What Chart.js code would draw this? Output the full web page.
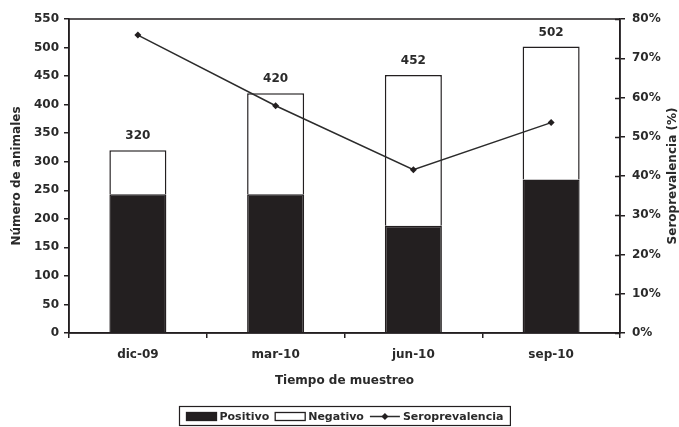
<!DOCTYPE html>
<html>
<head>
<meta charset="utf-8">
<script src="https://cdn.jsdelivr.net/npm/chart.js@4.4.0/dist/chart.umd.min.js"></script>
<style>
  html, body { margin: 0; padding: 0; background: #fff; }
  #wrap { width: 679px; height: 427px; position: relative; }
</style>
</head>
<body>
<div id="wrap"><canvas id="chart"></canvas></div>
<script>
// data
const categories = ['dic-09', 'mar-10', 'jun-10', 'sep-10'];
const positivo = [243, 243, 188, 269];
const negativo = [77, 177, 264, 233];
const seroprevalencia = [75.9, 57.9, 41.6, 53.6];
const leftTicks = [0, 50, 100, 150, 200, 250, 300, 350, 400, 450, 500, 550];
const rightTicks = [0, 10, 20, 30, 40, 50, 60, 70, 80];

const INK = '#231f20';
const TEXT = '#2a2a2a';
const TITLE_FONT = { family: "'DejaVu Sans', sans-serif", size: 12, weight: 'bold' };
const TICK_FONT = { family: "'DejaVu Sans', sans-serif", size: 12, weight: 'bold' };
const RIGHT_TITLE = 'Seroprevalencia (%)';

// frame, crossing ticks on the right axis, totals above bars, boxed legend
const extras = {
  id: 'extras',
  afterDraw(chart) {
    const ctx = chart.ctx;
    const area = chart.chartArea;
    ctx.save();
    ctx.strokeStyle = INK;
    ctx.lineWidth = 1.5;
    ctx.strokeRect(area.left, area.top, area.right - area.left, area.bottom - area.top);

    // inner half of the right axis ticks
    const y1 = chart.scales.y1;
    ctx.beginPath();
    y1.ticks.forEach(t => {
      const py = Math.round(y1.getPixelForValue(t.value)) + 0.5;
      ctx.moveTo(area.right - 5, py);
      ctx.lineTo(area.right, py);
    });
    ctx.stroke();

    // totals
    const topMeta = chart.getDatasetMeta(1);
    ctx.fillStyle = TEXT;
    ctx.font = 'bold 12px "DejaVu Sans"';
    ctx.textAlign = 'center';
    ctx.textBaseline = 'middle';
    topMeta.data.forEach((bar, i) => {
      const total = positivo[i] + negativo[i];
      ctx.fillText(String(total), bar.x, bar.y - 14);
    });

    // right axis title, reading bottom to top
    ctx.save();
    ctx.translate(chart.width - 6, (area.top + area.bottom) / 2);
    ctx.rotate(-Math.PI / 2);
    ctx.font = 'bold 12px "DejaVu Sans"';
    ctx.fillText(RIGHT_TITLE, 0, 0);
    ctx.restore();

    // legend
    ctx.font = 'bold 11px "DejaVu Sans"';
    ctx.textAlign = 'left';
    const symW = 30, gapA = 3, gapB = 6, padX = 7;
    const sets = chart.data.datasets;
    let total = padX * 2;
    sets.forEach((ds, i) => {
      total += symW + gapA + ctx.measureText(ds.label).width + (i < sets.length - 1 ? gapB : 0);
    });
    const cx = (area.left + area.right) / 2;
    const boxL = Math.round(cx - total / 2) + 0.5;
    const boxT = 406.5, boxH = 19;
    const cy = boxT + boxH / 2 + 0.5;
    ctx.lineWidth = 1.2;
    ctx.strokeRect(boxL, boxT, total, boxH);
    let x = boxL + padX;
    sets.forEach((ds, i) => {
      if (ds.type === 'line') {
        ctx.strokeStyle = ds.borderColor;
        ctx.lineWidth = ds.borderWidth;
        ctx.beginPath();
        ctx.moveTo(x, cy);
        ctx.lineTo(x + symW, cy);
        ctx.stroke();
        ctx.fillStyle = ds.pointBackgroundColor;
        ctx.beginPath();
        ctx.moveTo(x + symW / 2, cy - 3.5);
        ctx.lineTo(x + symW / 2 + 3.5, cy);
        ctx.lineTo(x + symW / 2, cy + 3.5);
        ctx.lineTo(x + symW / 2 - 3.5, cy);
        ctx.closePath();
        ctx.fill();
      } else {
        ctx.fillStyle = ds.backgroundColor;
        ctx.fillRect(x, cy - 4, symW, 8);
        ctx.strokeStyle = ds.borderColor;
        ctx.lineWidth = 1.3;
        ctx.strokeRect(x, cy - 4, symW, 8);
      }
      x += symW + gapA;
      ctx.fillStyle = TEXT;
      ctx.fillText(ds.label, x, cy + 0.5);
      x += ctx.measureText(ds.label).width + gapB;
    });
    ctx.restore();
  }
};

Chart.defaults.font.family = TICK_FONT.family;
Chart.defaults.color = TEXT;

new Chart(document.getElementById('chart'), {
  data: {
    labels: categories,
    datasets: [
      {
        type: 'bar',
        label: 'Positivo',
        data: positivo,
        backgroundColor: INK,
        borderColor: INK,
        borderWidth: 1.5,
        barPercentage: 0.414,
        categoryPercentage: 1,
        yAxisID: 'y',
        order: 1
      },
      {
        type: 'bar',
        label: 'Negativo',
        data: negativo,
        backgroundColor: '#ffffff',
        borderColor: INK,
        borderWidth: 1.5,
        barPercentage: 0.414,
        categoryPercentage: 1,
        yAxisID: 'y',
        order: 1
      },
      {
        type: 'line',
        label: 'Seroprevalencia',
        data: seroprevalencia,
        borderColor: '#2b2b2b',
        borderWidth: 1.5,
        pointStyle: 'rectRot',
        pointRadius: 3.5,
        pointBackgroundColor: INK,
        pointBorderColor: INK,
        pointBorderWidth: 0,
        tension: 0,
        yAxisID: 'y1',
        order: 0
      }
    ]
  },
  options: {
    responsive: true,
    maintainAspectRatio: false,
    animation: false,
    layout: { padding: { top: 19, bottom: 36, left: 0, right: 0 } },
    plugins: {
      legend: { display: false },
      tooltip: { enabled: false }
    },
    scales: {
      x: {
        stacked: true,
        afterFit(scale) { scale.height = 58; },
        grid: { drawOnChartArea: false, drawTicks: true, tickLength: 5, color: INK, lineWidth: 1.5 },
        border: { color: INK, width: 1.5 },
        ticks: { font: TICK_FONT, color: TEXT, padding: 10, maxRotation: 0 },
        title: { display: true, text: 'Tiempo de muestreo', font: TITLE_FONT, color: TEXT, padding: { top: 0, bottom: 3 } }
      },
      y: {
        stacked: true,
        position: 'left',
        min: 0,
        max: 550,
        afterFit(scale) { scale.width = 69; },
        afterBuildTicks(scale) { scale.ticks = leftTicks.map(v => ({ value: v })); },
        grid: { drawOnChartArea: false, drawTicks: true, tickLength: 5, color: INK, lineWidth: 1.5 },
        border: { color: INK, width: 1.5 },
        ticks: { font: TICK_FONT, color: TEXT, padding: 5 },
        title: { display: true, text: 'Número de animales', font: TITLE_FONT, color: TEXT, padding: { top: 10, bottom: 0 } }
      },
      y1: {
        position: 'right',
        min: 0,
        max: 80,
        afterFit(scale) { scale.width = 59; },
        afterBuildTicks(scale) { scale.ticks = rightTicks.map(v => ({ value: v })); },
        grid: { drawOnChartArea: false, drawTicks: true, tickLength: 5, color: INK, lineWidth: 1.5 },
        border: { color: INK, width: 1.5 },
        ticks: { font: TICK_FONT, color: TEXT, padding: 7, callback: v => v + '%' }
      }
    }
  },
  plugins: [extras]
});
</script>
</body>
</html>
